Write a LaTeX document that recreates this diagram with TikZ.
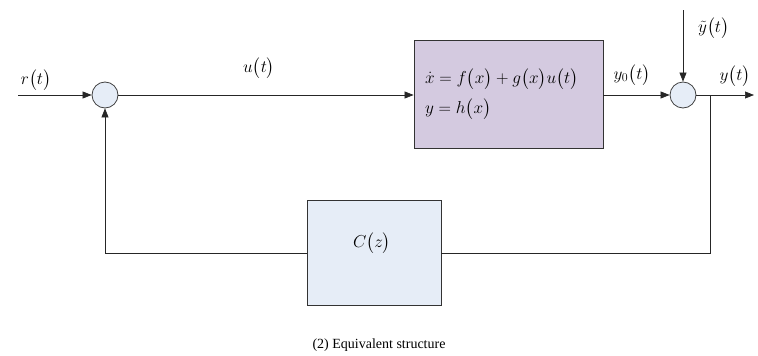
\documentclass[tikz,border=0pt]{standalone}
\usepackage{amsmath}
\usepackage{fontspec}
\setmainfont{Liberation Serif}
\usetikzlibrary{arrows.meta}
\begin{document}
\begin{tikzpicture}[x=1pt,y=-1pt,
  sumc/.style={circle,draw=black!75,fill={rgb,255:red,230;green,237;blue,247},line width=0.8pt,minimum size=26pt,inner sep=0pt},
  blk/.style={draw=black!80,line width=0.9pt,inner sep=0pt},
  sig/.style={line width=0.7pt,draw=black!85},
  arr/.style={sig,-{Triangle[length=9pt,width=7pt]}},
  lbl/.style={font=\fontsize{17}{20}\selectfont,inner sep=1pt}]
\useasboundingbox (0,0) rectangle (758,356);
\node[sumc] (s1) at (105,95) {};
\node[sumc] (s2) at (683,95) {};
\node[blk,lbl,inner sep=0pt,fill={rgb,255:red,212;green,202;blue,224},minimum width=189pt,minimum height=108pt,text width=167pt,align=left] (plant) at (508.5,94) {$\dot{x}=f\bigl(x\bigr)+g\bigl(x\bigr)u\bigl(t\bigr)$\\[8pt]$y=h\bigl(x\bigr)$};
\node[blk,lbl,inner sep=0pt,fill={rgb,255:red,230;green,237;blue,247},minimum width=134pt,minimum height=105pt] (ctrl) at (374,252.5) {};
\coordinate (rin) at (18,95);
\coordinate (ytop) at (683,10);
\coordinate (yout) at (754,95);
\coordinate (br) at (710,95);
\coordinate (brd) at (710,253);
\coordinate (bl) at (105,253);
\draw[arr] (rin) -- (s1);
\draw[arr] (s1) -- (s1 -| plant.west);
\draw[arr] (plant.east |- s2) -- (s2);
\draw[arr] (ytop) -- (s2);
\draw[arr] (s2) -- (yout);
\draw[sig] (br) -- (brd) -- (brd -| ctrl.east);
\draw[arr] (ctrl.west |- bl) -- (bl) -- (s1);
\node[lbl] (lr) at (36,80) {$r\bigl(t\bigr)$};
\node[lbl] (lu) at (259,68) {$u\bigl(t\bigr)$};
\node[lbl] (ly0) at (632,75) {$y_0\bigl(t\bigr)$};
\node[lbl,anchor=west] (lyt) at (697,28) {$\tilde{y}\bigl(t\bigr)$};
\node[lbl] (ly) at (735,76) {$y\bigl(t\bigr)$};
\node[lbl] (cz) at (372,243) {$C\bigl(z\bigr)$};
\node[font=\fontsize{14}{16}\selectfont] (cap) at (379,345) {(2) Equivalent structure};
\end{tikzpicture}
\end{document}
